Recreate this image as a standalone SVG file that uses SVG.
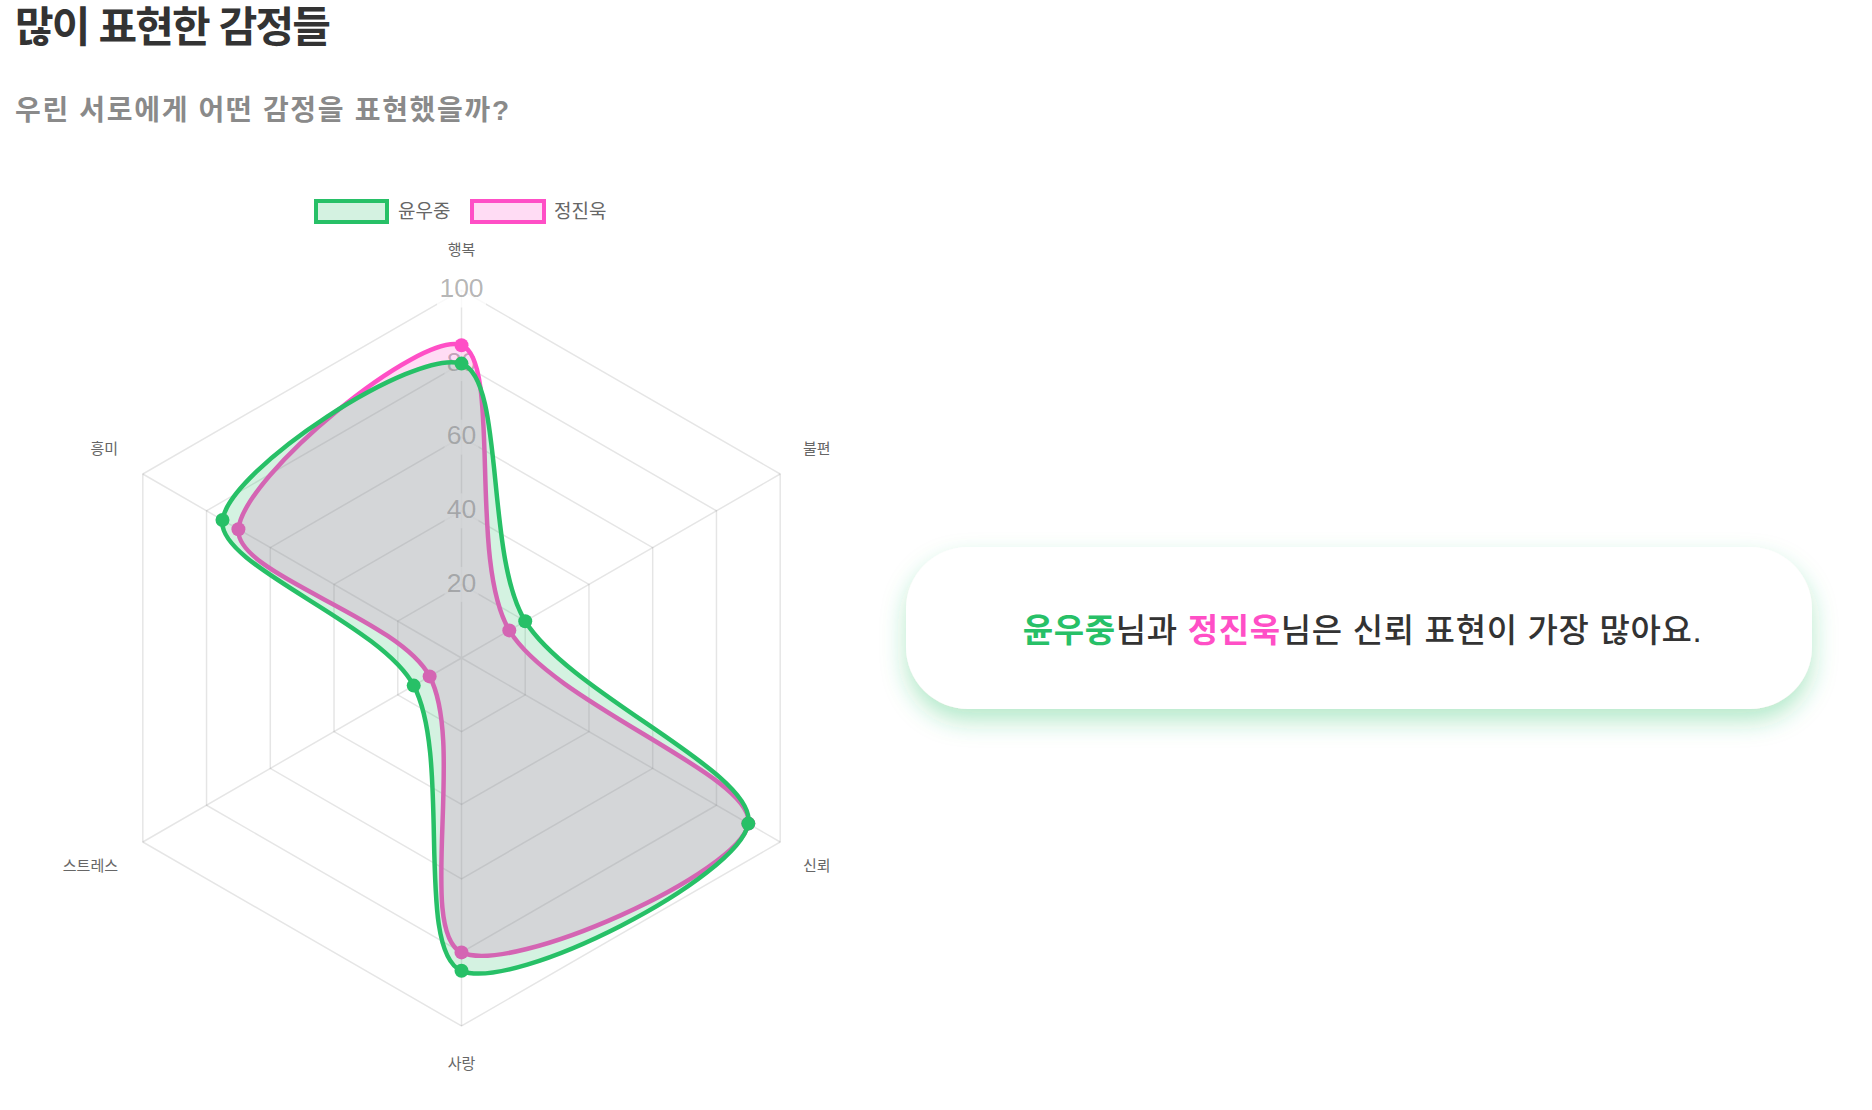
<svg xmlns="http://www.w3.org/2000/svg" width="1872" height="1110" viewBox="0 0 1872 1110">
<defs>
<style>
.ko { font-family: "Liberation Sans", "Noto Sans CJK KR", sans-serif; }
.title { font-size: 42px; font-weight: 700; fill: #333333; }
.sub { font-size: 28px; font-weight: 700; fill: #8a8a8a; }
.legend { font-size: 19px; fill: #666666; }
.axis { font-size: 15px; fill: #666666; }
.tick { font-family: "Liberation Sans", Arial, sans-serif; font-size: 26.5px; fill: rgba(0,0,0,0.3); text-anchor: middle; }
.backdrop { fill: rgba(255,255,255,0.75); stroke: none; }
.grid { fill: none; stroke: rgba(0,0,0,0.1); stroke-width: 1.5; }
.pfill { fill: rgba(255,79,198,0.2); stroke: none; }
.pline { fill: none; stroke: #ff4fc6; stroke-width: 4.5; stroke-linejoin: round; }
.ppt { fill: #ff4fc6; }
.gfill { fill: rgba(39,192,103,0.2); stroke: none; }
.gline { fill: none; stroke: #27c067; stroke-width: 4.5; stroke-linejoin: round; }
.gpt { fill: #27c067; }
.card-text { font-size: 33px; font-weight: 500; fill: #333333; text-anchor: middle; }
.name { font-weight: 700; }
</style>
<filter id="cardShadow" x="-10%" y="-40%" width="120%" height="200%">
<feDropShadow dx="0" dy="12" stdDeviation="12" flood-color="#27c067" flood-opacity="0.35"/>
</filter>
</defs>
<rect x="0" y="0" width="1872" height="1110" fill="#ffffff"/>

<g id="header">
<text class="ko title" x="15" y="42" textLength="316">많이 표현한 감정들</text>
<text class="ko sub" x="15" y="120" textLength="494">우린 서로에게 어떤 감정을 표현했을까?</text>
</g>

<g id="legend">
<rect x="316" y="201" width="71" height="21" fill="rgba(39,192,103,0.2)" stroke="#27c067" stroke-width="4"/>
<text class="ko legend" x="398" y="218">윤우중</text>
<rect x="472" y="201" width="72" height="21" fill="rgba(255,79,198,0.2)" stroke="#ff4fc6" stroke-width="4"/>
<text class="ko legend" x="554" y="218">정진욱</text>
</g>

<g id="radar-grid">
<polygon class="grid" points="461.5,290 780.2,474 780.2,842 461.5,1026 142.8,842 142.8,474"/>
<polygon class="grid" points="461.5,363.6 716.46,510.8 716.46,805.2 461.5,952.4 206.54,805.2 206.54,510.8"/>
<polygon class="grid" points="461.5,437.2 652.71,547.6 652.71,768.4 461.5,878.8 270.29,768.4 270.29,547.6"/>
<polygon class="grid" points="461.5,510.8 588.98,584.4 588.98,731.6 461.5,804.4 334.02,731.6 334.02,584.4"/>
<polygon class="grid" points="461.5,584.4 525.24,621.2 525.24,694.8 461.5,731.6 397.76,694.8 397.76,621.2"/>
<path class="grid" d="M461.5,658 L461.5,290 M461.5,658 L780.2,474 M461.5,658 L780.2,842 M461.5,658 L461.5,1026 M461.5,658 L142.8,842 M461.5,658 L142.8,474"/>
</g>

<g id="ticks">
<rect class="backdrop" x="437" y="272.5" width="49" height="35"/>
<rect class="backdrop" x="444.5" y="346.1" width="34" height="35"/>
<rect class="backdrop" x="444.5" y="419.7" width="34" height="35"/>
<rect class="backdrop" x="444.5" y="493.3" width="34" height="35"/>
<rect class="backdrop" x="444.5" y="566.9" width="34" height="35"/>
<text class="tick" x="461.5" y="297">100</text>
<text class="tick" x="461.5" y="370.8">80</text>
<text class="tick" x="461.5" y="444.4">60</text>
<text class="tick" x="461.5" y="518">40</text>
<text class="tick" x="461.5" y="591.6">20</text>
</g>

<g id="axis-labels">
<text class="ko axis" x="461.5" y="255.2" text-anchor="middle">행복</text>
<text class="ko axis" x="803" y="453.8">불편</text>
<text class="ko axis" x="803" y="870.5">신뢰</text>
<text class="ko axis" x="461.5" y="1068.5" text-anchor="middle">사랑</text>
<text class="ko axis" x="118" y="870.5" text-anchor="end">스트레스</text>
<text class="ko axis" x="118" y="453.8" text-anchor="end">흥미</text>
</g>

<g id="series-jeongjinuk">
<path class="pfill" d="M461.5,345.2 C502.13,360.38 467.58,560.82 509.3,630.4 C553.63,704.34 755.41,775.85 748.32,823.6 C741.07,872.45 512.26,975.84 461.5,952.4 C416.65,931.68 465.45,744.35 429.63,676.4 C398.52,617.39 234.07,574.4 238.42,529.2 C243.63,475.04 420.87,330.02 461.5,345.2 Z"/>
<path class="pline" d="M461.5,345.2 C502.13,360.38 467.58,560.82 509.3,630.4 C553.63,704.34 755.41,775.85 748.32,823.6 C741.07,872.45 512.26,975.84 461.5,952.4 C416.65,931.68 465.45,744.35 429.63,676.4 C398.52,617.39 234.07,574.4 238.42,529.2 C243.63,475.04 420.87,330.02 461.5,345.2 Z"/>
<circle class="ppt" cx="461.5" cy="345.2" r="7"/>
<circle class="ppt" cx="509.3" cy="630.4" r="7"/>
<circle class="ppt" cx="748.32" cy="823.6" r="7"/>
<circle class="ppt" cx="461.5" cy="952.4" r="7"/>
<circle class="ppt" cx="429.63" cy="676.4" r="7"/>
<circle class="ppt" cx="238.42" cy="529.2" r="7"/>
</g>

<g id="series-yunwoojung">
<path class="gfill" d="M461.5,363.6 C505.24,378.22 484.94,556.56 525.24,621.2 C570.98,694.56 757.56,772.94 748.32,823.6 C738.43,877.82 514.42,992.63 461.5,970.8 C414.04,951.23 451.95,757.74 413.7,685.6 C380.24,622.5 215.74,565.37 222.48,520 C230.08,468.77 414.41,347.86 461.5,363.6 Z"/>
<path class="gline" d="M461.5,363.6 C505.24,378.22 484.94,556.56 525.24,621.2 C570.98,694.56 757.56,772.94 748.32,823.6 C738.43,877.82 514.42,992.63 461.5,970.8 C414.04,951.23 451.95,757.74 413.7,685.6 C380.24,622.5 215.74,565.37 222.48,520 C230.08,468.77 414.41,347.86 461.5,363.6 Z"/>
<circle class="gpt" cx="461.5" cy="363.6" r="7"/>
<circle class="gpt" cx="525.24" cy="621.2" r="7"/>
<circle class="gpt" cx="748.32" cy="823.6" r="7"/>
<circle class="gpt" cx="461.5" cy="970.8" r="7"/>
<circle class="gpt" cx="413.7" cy="685.6" r="7"/>
<circle class="gpt" cx="222.48" cy="520" r="7"/>
</g>

<g id="summary-card">
<rect x="906" y="547" width="906" height="162" rx="62" ry="62" fill="#ffffff" filter="url(#cardShadow)"/>
<text class="ko card-text" x="1362.2" y="642" textLength="679"><tspan class="name" fill="#27c067">윤우중</tspan>님과 <tspan class="name" fill="#ff4fc6">정진욱</tspan>님은 신뢰 표현이 가장 많아요.</text>
</g>
</svg>
